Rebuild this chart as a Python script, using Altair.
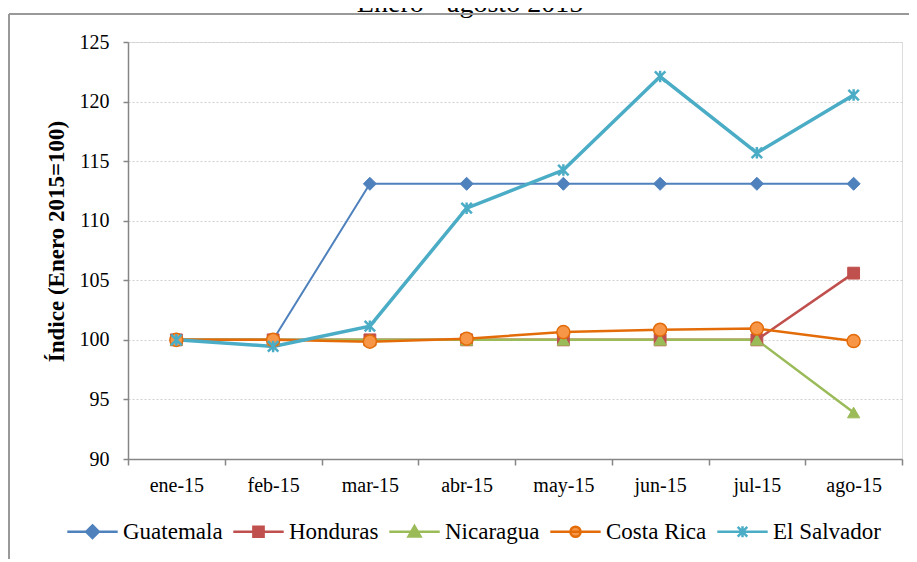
import json
import altair as alt
import pandas as pd

# ---------------- data ----------------
months = ["ene-15", "feb-15", "mar-15", "abr-15", "may-15", "jun-15", "jul-15", "ago-15"]
series = ["Guatemala", "Honduras", "Nicaragua", "Costa Rica", "El Salvador"]
guatemala = [100, 100, 113.1, 113.1, 113.1, 113.1, 113.1, 113.1]
honduras = [100, 100, 100, 100, 100, 100, 100, 105.6]
nicaragua = [100, 100, 100, 100, 100, 100, 100, 93.9]
costa_rica = [100, 100, 99.85, 100.1, 100.65, 100.85, 100.95, 99.9]
el_salvador = [100, 99.45, 101.15, 111.05, 114.25, 122.1, 115.7, 120.55]
y_ticks = [90, 95, 100, 105, 110, 115, 120, 125]
title_text = "Enero - agosto 2015"

values = [guatemala, honduras, nicaragua, costa_rica, el_salvador]
rows = []
for name, vals in zip(series, values):
    for i, v in enumerate(vals):
        rows.append({"pais": name, "mes": i, "valor": v})
df = pd.DataFrame(rows)

# ---------------- styles ----------------
stroke_col = {"Guatemala": "#4f81bd", "Honduras": "#c0504d", "Nicaragua": "#9bbb59",
              "Costa Rica": "#e36c09", "El Salvador": "#4bacc6"}
fill_col = {"Guatemala": "#4f81bd", "Honduras": "#c0504d", "Nicaragua": "#9bbb59",
            "Costa Rica": "#f79646", "El Salvador": "#4bacc6"}
line_w = {"Guatemala": 2, "Honduras": 2.5, "Nicaragua": 2.5, "Costa Rica": 2.5, "El Salvador": 3.5}
xstar = "M-1,-1L1,1M-1,1L1,-1M0,-1.1L0,1.1"
marker = {
    "Guatemala": dict(shape="diamond", filled=True, size=170, strokeWidth=1),
    "Honduras": dict(shape="square", filled=True, size=140, strokeWidth=1),
    "Nicaragua": dict(shape="triangle-up", filled=True, size=150, strokeWidth=1),
    "Costa Rica": dict(shape="circle", filled=True, size=170, strokeWidth=1.5),
    "El Salvador": dict(shape=xstar, filled=False, size=110, strokeWidth=2.5),
}
L = 4.2
legend_paths = [
    f"M-{L},0L{L},0M0,-1.05L1.05,0L0,1.05L-1.05,0Z",
    f"M-{L},0L{L},0M-0.85,-0.85L0.85,-0.85L0.85,0.85L-0.85,0.85Z",
    f"M-{L},0L{L},0M0,-0.95L1,0.8L-1,0.8Z",
    f"M-{L},0L{L},0M-0.85,0A0.85,0.85,0,1,1,0.85,0A0.85,0.85,0,1,1,-0.85,0Z",
    f"M-{L},0L{L},0M-0.8,-0.8L0.8,0.8M-0.8,0.8L0.8,-0.8M0,-0.9L0,0.9",
]

FONT = "Liberation Serif"
x_vals = [i * 0.5 - 0.5 for i in range(2 * len(months) + 1)]
label_expr = f"datum.value % 1 === 0 ? {json.dumps(months)}[datum.value] : ''"

x_enc = alt.X("mes:Q",
              scale=alt.Scale(domain=[-0.5, len(months) - 0.5], nice=False, zero=False),
              axis=alt.Axis(values=x_vals, labelExpr=label_expr, title=None, grid=False,
                            labelOverlap=False, labelFlush=False,
                            tickOpacity={"condition": {"test": "datum.value % 1 === 0", "value": 0}, "value": 1},
                            tickSize=6, labelPadding=10, labelFontSize=20, labelFont=FONT,
                            labelColor="#000000", domainColor="#868686", tickColor="#868686",
                            domainWidth=1.5, tickWidth=1.5))
y_enc = alt.Y("valor:Q",
              scale=alt.Scale(domain=[90, 125], nice=False, zero=False),
              axis=alt.Axis(values=y_ticks, title="Índice (Enero 2015=100)",
                            titleFont=FONT, titleFontSize=23, titleFontWeight="bold",
                            titleColor="#000000", titlePadding=11, titleY=199,
                            labelFont=FONT, labelFontSize=20, labelColor="#000000",
                            labelPadding=14, tickSize=5, domainColor="#868686",
                            tickColor="#868686", domainWidth=1.5, tickWidth=1.5,
                            grid=True, gridColor="#d0d0d0", gridDash=[2, 2], gridWidth=1))

base = alt.Chart(df)
layers = []
for name in series:
    sub = base.transform_filter(alt.datum.pais == name)
    layers.append(sub.mark_line(color=stroke_col[name], strokeWidth=line_w[name]).encode(x=x_enc, y=y_enc))
for name in series:
    sub = base.transform_filter(alt.datum.pais == name)
    m = marker[name]
    layers.append(sub.mark_point(shape=m["shape"], filled=m["filled"], size=m["size"],
                                 fill=fill_col[name] if m["filled"] else "transparent",
                                 stroke=stroke_col[name], strokeWidth=m["strokeWidth"],
                                 opacity=1).encode(x=x_enc, y=y_enc))

legend = alt.Legend(title=None, orient="none", legendX=-47, legendY=478, direction="horizontal",
                    columns=5, labelFont=FONT, labelFontSize=23, labelColor="#000000",
                    symbolSize=144, symbolStrokeWidth=2.5, labelOffset=19, columnPadding=5,
                    padding=0, symbolOpacity=1)
legend_layer = base.transform_filter("false").mark_point(filled=True, strokeWidth=2.5, opacity=1).encode(
    x=x_enc, y=y_enc,
    fill=alt.Fill("pais:N", scale=alt.Scale(domain=series, range=[fill_col[s] for s in series]), legend=legend),
    stroke=alt.Stroke("pais:N", scale=alt.Scale(domain=series, range=[stroke_col[s] for s in series]), legend=legend),
    shape=alt.Shape("pais:N", scale=alt.Scale(domain=series, range=legend_paths), legend=legend),
)

one = pd.DataFrame({"a": [0]})
title_mark = alt.Chart(one).mark_text(text=title_text, font=FONT, fontSize=28, color="#000000",
                                      align="center", baseline="alphabetic").encode(
    x=alt.value(342), y=alt.value(-30))
frame_top = alt.Chart(one).mark_rule(color="#999999", strokeWidth=2).encode(
    x=alt.value(-119), x2=alt.value(800), y=alt.value(-28))
frame_left = alt.Chart(one).mark_rule(color="#999999", strokeWidth=2).encode(
    x=alt.value(-119), y=alt.value(-28), y2=alt.value(600))

chart = alt.layer(title_mark, frame_top, frame_left, *layers, legend_layer).properties(
    width=774, height=417,
    autosize=alt.AutoSizeParams(type="none"),
    padding={"left": 120, "top": 34, "right": 7, "bottom": 100},
).configure_view(fill="#f7f7f7", stroke="#dcdcdc", strokeWidth=1).configure(background="white")

chart.save("out.html", embed_options={"renderer": "svg", "actions": False})
